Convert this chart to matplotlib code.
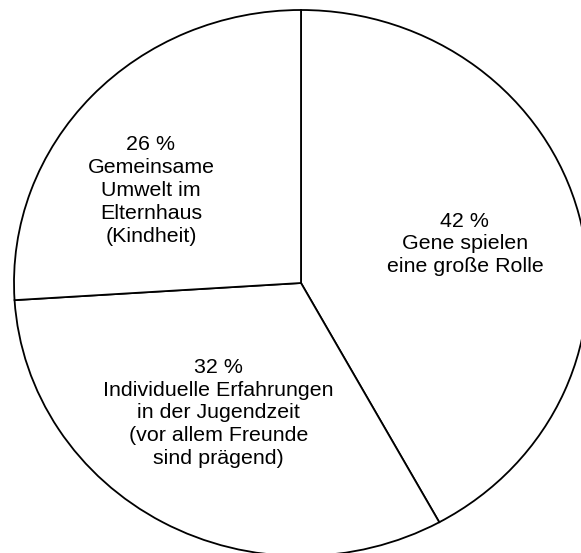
import matplotlib
matplotlib.use("Agg")
import matplotlib.pyplot as plt

# Data
categories = ["Gene spielen\neine große Rolle",
              "Individuelle Erfahrungen\nin der Jugendzeit\n(vor allem Freunde\nsind prägend)",
              "Gemeinsame\nUmwelt im\nElternhaus\n(Kindheit)"]
values = [42, 32, 26]
pct_labels = ["42 %", "32 %", "26 %"]

# Layout (label centres in data coordinates of the pie)
label_pos = [(0.571, 0.143), (-0.287, -0.476), (-0.523, 0.339)]

W, H = 581, 553
fig = plt.figure(figsize=(W / 100, H / 100), dpi=100)
fig.patch.set_facecolor("white")

# ellipse: centre (301,283) px, rx 287 px, ry 273 px
cx, cy, rx, ry = 301, 283, 287, 273
left = (cx - rx) / W
width = 2 * rx / W
bottom = (H - (cy + ry)) / H
height = 2 * ry / H
ax = fig.add_axes([left, bottom, width, height])

wedges, _ = ax.pie(values, startangle=90, counterclock=False, radius=1,
                   colors=["white"] * len(values),
                   wedgeprops=dict(edgecolor="black", linewidth=1.3))
ax.set_aspect("auto")
ax.set_xlim(-1, 1)
ax.set_ylim(-1, 1)
ax.axis("off")
for w in wedges:
    w.set_clip_on(False)

for (x, y), p, c in zip(label_pos, pct_labels, categories):
    ax.text(x, y, p + "\n" + c, ha="center", va="center",
            fontsize=15.4, family="Liberation Sans", linespacing=1.26,
            color="black")

fig.savefig("out.png", dpi=100, facecolor="white")
